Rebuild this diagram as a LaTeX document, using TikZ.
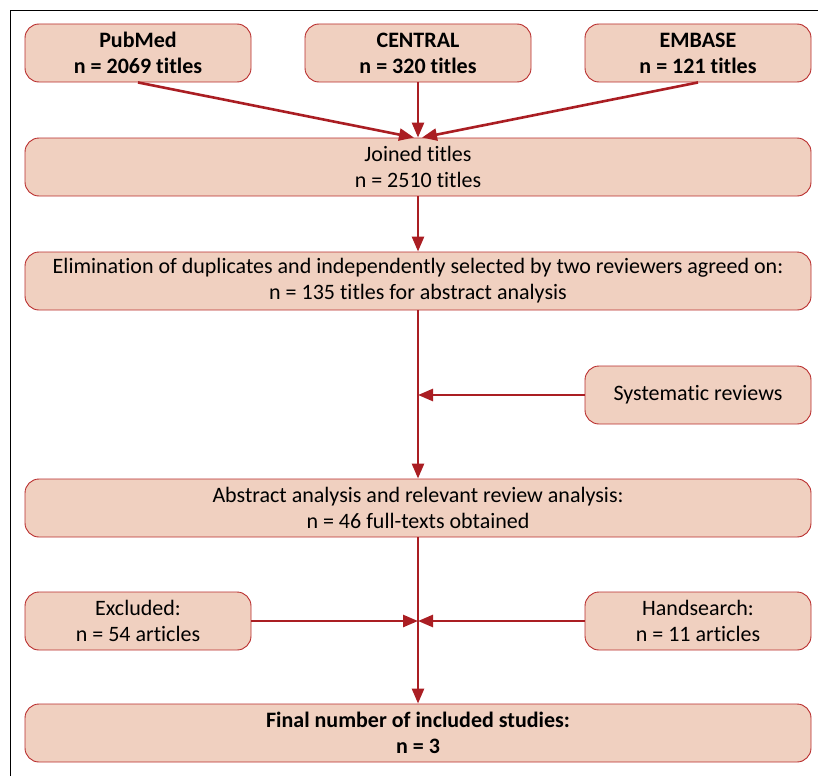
\documentclass[tikz,border=0pt]{standalone}
\usepackage{fontspec}
\setmainfont[Ligatures=NoCommon]{Carlito}
\usetikzlibrary{arrows.meta}
\definecolor{boxfill}{RGB}{240,208,192}
\definecolor{boxline}{RGB}{185,45,45}
\definecolor{flowred}{RGB}{170,30,35}
\begin{document}
\begin{tikzpicture}[x=1pt,y=-1pt,
  box/.style={draw=boxline,fill=boxfill,line width=0.9pt,rounded corners=14pt,
    minimum height=58pt,inner sep=0pt,align=center,
    font=\fontsize{22}{26}\selectfont},
  smallbox/.style={box,minimum width=226pt},
  widebox/.style={box,minimum width=786pt},
  flow/.style={draw=flowred,line width=2.6pt,-{Triangle[length=15pt,width=12pt]}}]
\useasboundingbox (0,0) rectangle (818,776);
\draw[line width=1.2pt] (10.5,776) -- (10.5,10.5) -- (818,10.5);
% sources
\node[smallbox] (pubmed) at (138,53) {\textbf{PubMed}\\\textbf{n = 2069 titles}};
\node[smallbox] (central) at (418,53) {\textbf{CENTRAL}\\\textbf{n = 320 titles}};
\node[smallbox] (embase) at (698,53) {\textbf{EMBASE}\\\textbf{n = 121 titles}};
% main column
\node[widebox] (joined) at (418,167) {Joined titles\\n = 2510 titles};
\node[widebox] (elim) at (418,281) {Elimination of duplicates and independently selected by two reviewers agreed on:\\n = 135 titles for abstract analysis};
\node[smallbox] (sysrev) at (698,395) {Systematic reviews};
\node[widebox] (abstr) at (418,508) {Abstract analysis and relevant review analysis:\\n = 46 full-texts obtained};
\node[smallbox] (excl) at (138,621) {Excluded:\\n = 54 articles};
\node[smallbox] (hand) at (698,621) {Handsearch:\\n = 11 articles};
\node[widebox] (final) at (418,733) {\textbf{Final number of included studies:}\\\textbf{n = 3}};
% arrows
\draw[flow] (pubmed.south) -- ([xshift=-4pt]joined.north);
\draw[flow] (central.south) -- (joined.north);
\draw[flow] (embase.south) -- ([xshift=4pt]joined.north);
\draw[flow] (joined.south) -- (elim.north);
\draw[flow] (elim.south) -- (abstr.north);
\draw[flow] (sysrev.west) -- (sysrev.west -| elim.south);
\draw[flow] (abstr.south) -- (final.north);
\draw[flow] (excl.east) -- (excl.east -| abstr.south);
\draw[flow] (hand.west) -- (hand.west -| abstr.south);
\end{tikzpicture}
\end{document}
